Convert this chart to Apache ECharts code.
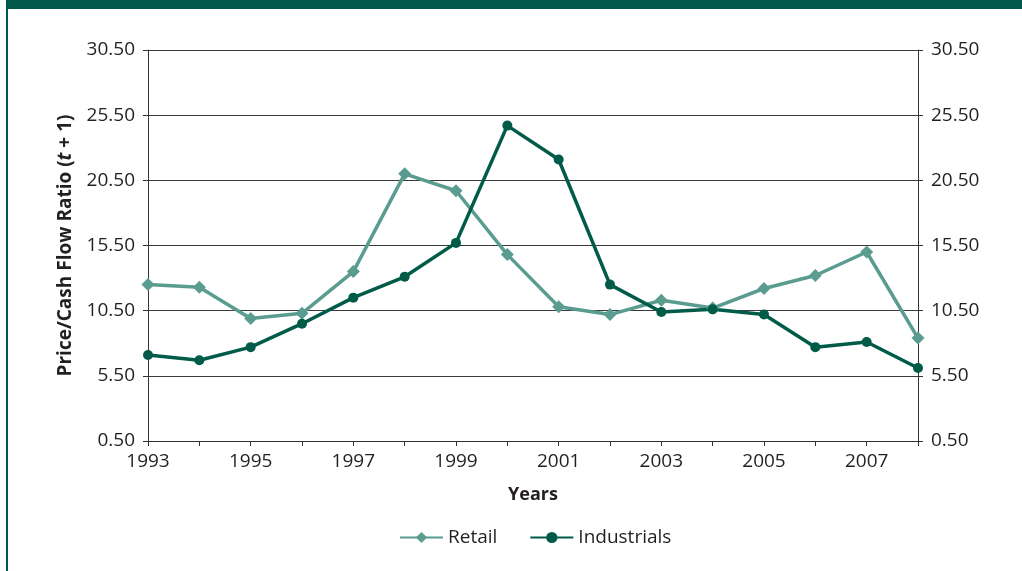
<!DOCTYPE html>
<html>
<head>
<meta charset="utf-8">
<script src="https://cdn.jsdelivr.net/npm/echarts@6/dist/echarts.min.js"></script>
<style>
html,body{margin:0;padding:0;background:#fff;}
#wrap{position:absolute;left:0;top:0;width:1022px;height:571px;overflow:hidden;background:#fff;}
#bar{position:absolute;left:6px;top:0;width:1016px;height:9px;background:#00594a;}
#side{position:absolute;left:6px;top:0;width:2px;height:571px;background:#00594a;}
#chart{position:absolute;left:0;top:0;width:1022px;height:571px;}
</style>
</head>
<body>
<div id="wrap"><div id="chart"></div><div id="bar"></div><div id="side"></div></div>
<script>
const years = ['1993','1994','1995','1996','1997','1998','1999','2000','2001','2002','2003','2004','2005','2006','2007','2008'];
const retail = [12.5, 12.3, 9.9, 10.3, 13.5, 21.0, 19.7, 14.8, 10.8, 10.2, 11.3, 10.7, 12.2, 13.2, 15.0, 8.4];
const industrials = [7.1, 6.7, 7.7, 9.5, 11.5, 13.1, 15.7, 24.7, 22.1, 12.5, 10.4, 10.6, 10.2, 7.7, 8.1, 6.1];
const yTickLabels = ['0.50','5.50','10.50','15.50','20.50','25.50','30.50'];
// axis runs 0.50..30.50; plotted on a 0..30 scale shifted by OFFSET so ticks start at a multiple of interval
const OFFSET = 0.5;

const FONT = 'Open Sans';
const TXT = '#231f20';
const chart = echarts.init(document.getElementById('chart'));
const yLabelFmt = v => yTickLabels[Math.round(v / 5)] || (v + OFFSET).toFixed(2);
const yAxisBase = {
  type: 'value', min: 0, max: 30, interval: 5,
  axisLine: {show: true, lineStyle: {color: '#333', width: 1}},
  axisTick: {show: true, length: 5, lineStyle: {color: '#333'}},
  axisLabel: {formatter: yLabelFmt, color: TXT, fontFamily: FONT, fontSize: 19, margin: 13}
};
chart.setOption({
  animation: false,
  grid: {left: 148, right: 104, top: 50, bottom: 130},
  legend: {
    left: 394, top: 523, itemWidth: 43, itemHeight: 14, itemGap: 32,
    textStyle: {color: TXT, fontFamily: FONT, fontSize: 19},
    data: ['Retail', 'Industrials']
  },
  xAxis: {
    type: 'category', data: years, boundaryGap: false,
    name: 'Years', nameLocation: 'middle', nameGap: 45,
    nameTextStyle: {color: TXT, fontFamily: FONT, fontSize: 18, fontWeight: 'bold'},
    axisLine: {lineStyle: {color: '#333', width: 1}},
    axisTick: {show: true, interval: 0, length: 5, lineStyle: {color: '#333'}},
    axisLabel: {interval: 1, color: TXT, fontFamily: FONT, fontSize: 19, margin: 11},
    splitLine: {show: false}
  },
  yAxis: [
    Object.assign({}, yAxisBase, {
      position: 'left',
      name: '{b|Price/Cash Flow Ratio (}{i|t}{b| + 1)}',
      nameLocation: 'middle', nameGap: 73, nameRotate: 90,
      nameTextStyle: {rich: {
        b: {fontFamily: FONT, fontSize: 19, fontWeight: 'bold', color: TXT},
        i: {fontFamily: FONT, fontSize: 19, fontWeight: 'bold', fontStyle: 'italic', color: TXT}
      }},
      splitLine: {show: true, lineStyle: {color: '#3a3a3a', width: 1}}
    }),
    Object.assign({}, yAxisBase, {position: 'right', splitLine: {show: false}})
  ],
  series: [
    {
      name: 'Retail', type: 'line', yAxisIndex: 0,
      data: retail.map(v => v - OFFSET),
      symbol: 'diamond', symbolSize: 13,
      lineStyle: {color: '#5a9c8f', width: 3.5},
      itemStyle: {color: '#5a9c8f'}
    },
    {
      name: 'Industrials', type: 'line', yAxisIndex: 0,
      data: industrials.map(v => v - OFFSET),
      symbol: 'circle', symbolSize: 10,
      lineStyle: {color: '#005b48', width: 3.5},
      itemStyle: {color: '#005b48'}
    }
  ]
});
</script>
</body>
</html>
